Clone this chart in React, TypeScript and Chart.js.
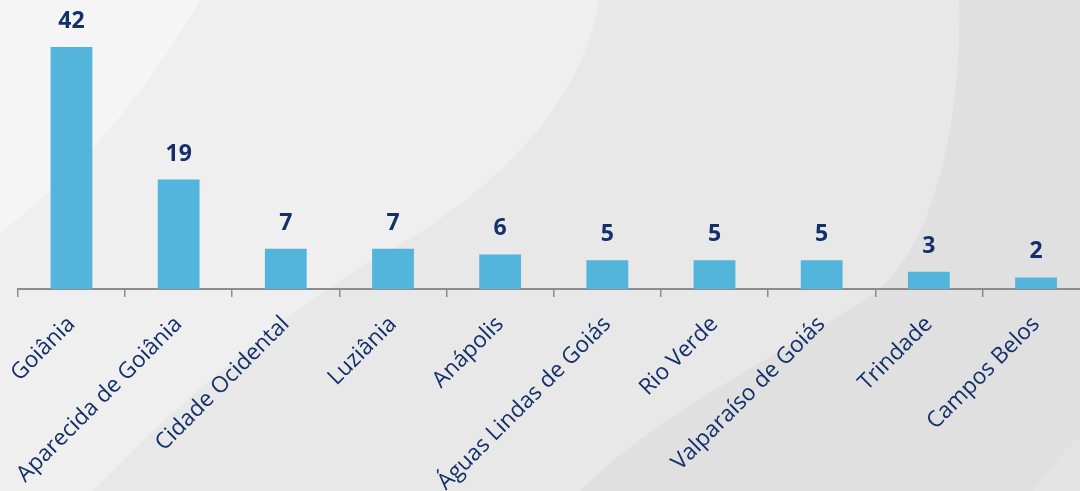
import React, { useEffect, useRef } from "react";
import { Chart, registerables } from "chart.js";

Chart.register(...registerables);

const categories: string[] = [
  "Goiânia",
  "Aparecida de Goiânia",
  "Cidade Ocidental",
  "Luziânia",
  "Anápolis",
  "Águas Lindas de Goiás",
  "Rio Verde",
  "Valparaíso de Goiás",
  "Trindade",
  "Campos Belos",
];
const values: number[] = [42, 19, 7, 7, 6, 5, 5, 5, 3, 2];

const BAR_COLOR = "#53b5db";
const TEXT_COLOR = "#13306b";
const AXIS_COLOR = "#8c8c8c";

const backgroundPlugin = {
  id: "bgShapes",
  beforeDraw(chart: any) {
    const ctx = chart.ctx as CanvasRenderingContext2D;
    const w = chart.width;
    const h = chart.height;
    ctx.save();
    ctx.fillStyle = "#e8e8e8";
    ctx.fillRect(0, 0, w, h);

    // light left region
    ctx.fillStyle = "#efefef";
    ctx.beginPath();
    ctx.moveTo(0, 0);
    ctx.lineTo(599, 0);
    ctx.bezierCurveTo(580, 120, 470, 210, 360, 267);
    ctx.bezierCurveTo(250, 340, 160, 420, 93, 491);
    ctx.lineTo(0, h);
    ctx.closePath();
    ctx.fill();

    // lightest top-left
    ctx.fillStyle = "#f5f5f5";
    ctx.beginPath();
    ctx.moveTo(0, 0);
    ctx.lineTo(200, 0);
    ctx.quadraticCurveTo(120, 140, 0, 233);
    ctx.closePath();
    ctx.fill();

    // darker right region
    ctx.fillStyle = "#e0e0e0";
    ctx.beginPath();
    ctx.moveTo(959, 0);
    ctx.bezierCurveTo(962, 120, 935, 240, 879, 290);
    ctx.bezierCurveTo(800, 345, 660, 410, 580, h);
    ctx.lineTo(w, h);
    ctx.lineTo(w, 0);
    ctx.closePath();
    ctx.fill();

    // slight bottom-right
    ctx.fillStyle = "#e4e4e4";
    ctx.beginPath();
    ctx.moveTo(w, 420);
    ctx.quadraticCurveTo(1060, 450, 1033, h);
    ctx.lineTo(w, h);
    ctx.closePath();
    ctx.fill();
    ctx.restore();
  },
};

const valueLabelPlugin = {
  id: "valueLabels",
  afterDatasetsDraw(chart: any) {
    const ctx = chart.ctx as CanvasRenderingContext2D;
    const meta = chart.getDatasetMeta(0);
    ctx.save();
    ctx.fillStyle = TEXT_COLOR;
    ctx.font = "bold 23px 'Open Sans'";
    ctx.textAlign = "center";
    ctx.textBaseline = "alphabetic";
    meta.data.forEach((bar: any, i: number) => {
      ctx.fillText(String(values[i]), bar.x, bar.y - 19);
    });
    ctx.restore();
  },
};

export default function App() {
  const canvasRef = useRef<HTMLCanvasElement | null>(null);

  useEffect(() => {
    if (!canvasRef.current) return;
    const chart = new Chart(canvasRef.current, {
      type: "bar",
      data: {
        labels: categories,
        datasets: [
          {
            data: values,
            backgroundColor: BAR_COLOR,
            borderWidth: 0,
            barPercentage: 0.39,
            categoryPercentage: 1,
          },
        ],
      },
      options: {
        animation: false,
        responsive: true,
        maintainAspectRatio: false,
        layout: { padding: { left: 17.4, right: 10.4, top: 1, bottom: 0 } },
        plugins: {
          legend: { display: false },
          tooltip: { enabled: false },
        },
        scales: {
          x: {
            offset: true,
            grid: {
              offset: true,
              drawOnChartArea: false,
              drawTicks: true,
              tickLength: 8,
              color: AXIS_COLOR,
              lineWidth: 1.5,
            },
            border: { display: true, color: AXIS_COLOR, width: 2 },
            ticks: {
              autoSkip: false,
              maxRotation: 45,
              minRotation: 45,
              padding: 14,
              color: TEXT_COLOR,
              font: { family: "'Open Sans'", size: 22.5 },
            },
            afterFit(scale: any) {
              scale.height = 202;
            },
          },
          y: {
            display: false,
            min: 0,
            max: 50,
          },
        },
      },
      plugins: [backgroundPlugin, valueLabelPlugin],
    });
    return () => chart.destroy();
  }, []);

  return (
    <div
      style={{
        position: "fixed",
        left: 0,
        top: 0,
        width: 1080,
        height: 491,
        overflow: "hidden",
        background: "#e8e8e8",
      }}
    >
      <div style={{ position: "relative", width: 1100, height: 491 }}>
        <canvas ref={canvasRef} />
      </div>
    </div>
  );
}
